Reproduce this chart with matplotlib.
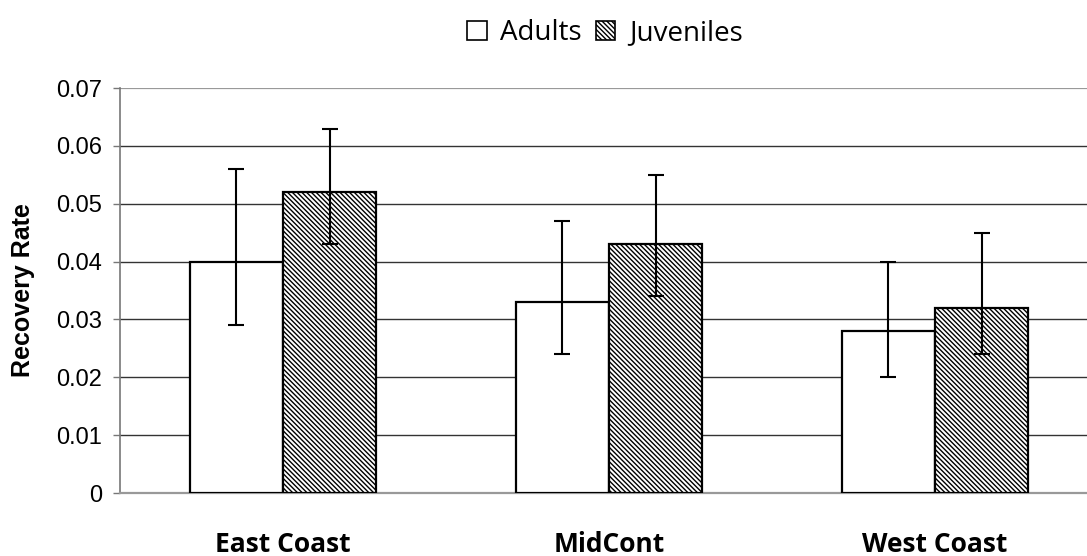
import matplotlib
matplotlib.use("Agg")
import matplotlib.pyplot as plt
import numpy as np
from matplotlib.patches import Patch

# Recovery rates by region and age class
regions = ["East Coast", "MidCont", "West Coast"]
adults = [0.040, 0.033, 0.028]
adults_low = [0.029, 0.024, 0.020]
adults_high = [0.056, 0.047, 0.040]
juveniles = [0.052, 0.043, 0.032]
juveniles_low = [0.043, 0.034, 0.024]
juveniles_high = [0.063, 0.055, 0.045]
yticks = [0, 0.01, 0.02, 0.03, 0.04, 0.05, 0.06, 0.07]
ytick_labels = ["0", "0.01", "0.02", "0.03", "0.04", "0.05", "0.06", "0.07"]

HATCH = "\\" * 7

plt.rcParams["hatch.linewidth"] = 1.0
plt.rcParams["hatch.color"] = "#3a3a3a"

fig = plt.figure(figsize=(10.87, 5.56), dpi=100)
ax = fig.add_axes([0.1104, 0.1133, 0.8896, 0.7284])

x = np.arange(len(regions))
w = 0.286

adults_err = [np.array(adults) - np.array(adults_low),
              np.array(adults_high) - np.array(adults)]
juv_err = [np.array(juveniles) - np.array(juveniles_low),
           np.array(juveniles_high) - np.array(juveniles)]

ax.bar(x - w / 2, adults, w, facecolor="white", edgecolor="black",
       linewidth=1.6, zorder=3)
ax.bar(x + w / 2, juveniles, w, facecolor="white", edgecolor="black",
       linewidth=1.6, hatch=HATCH, zorder=3)
ax.errorbar(x - w / 2, adults, yerr=adults_err, fmt="none", ecolor="black",
            elinewidth=1.5, capsize=6, capthick=1.5, zorder=4)
ax.errorbar(x + w / 2, juveniles, yerr=juv_err, fmt="none", ecolor="black",
            elinewidth=1.5, capsize=6, capthick=1.5, zorder=4)

ax.set_xlim(-0.5, 2.466)
ax.set_ylim(0, 0.07)
ax.set_yticks(yticks)
ax.set_yticklabels(ytick_labels, fontfamily="Liberation Sans", fontsize=17)

# horizontal gridlines
for t in yticks[1:-1]:
    ax.axhline(t, color="#333333", linewidth=1.0, zorder=1)
ax.axhline(0.07, color="#999999", linewidth=1.6, zorder=1)

for s in ["top", "right"]:
    ax.spines[s].set_visible(False)
ax.spines["left"].set_color("#777777")
ax.spines["left"].set_linewidth(1.2)
ax.spines["bottom"].set_color("#999999")
ax.spines["bottom"].set_linewidth(1.6)

ax.tick_params(axis="y", length=5, width=1.0, color="#777777", pad=8)
ax.tick_params(axis="x", length=0, pad=27)
ax.set_xticks(x)
ax.set_xticklabels(regions, fontfamily="Open Sans", fontweight="bold",
                   fontsize=19)

ax.set_ylabel("Recovery Rate", fontfamily="Liberation Sans",
              fontweight="bold", fontsize=18, labelpad=15)

handles = [Patch(facecolor="white", edgecolor="black", linewidth=1.2),
           Patch(facecolor="white", edgecolor="black", linewidth=1.2,
                 hatch=HATCH)]
fig.legend(handles, ["Adults", "Juveniles"], loc="center",
           bbox_to_anchor=(0.5566, 0.9406), ncol=2, frameon=False,
           prop={"family": "Open Sans", "size": 20},
           handlelength=0.7, handleheight=0.7, handletextpad=0.5,
           columnspacing=0.5, borderpad=0)

fig.savefig("out.png", dpi=100)
